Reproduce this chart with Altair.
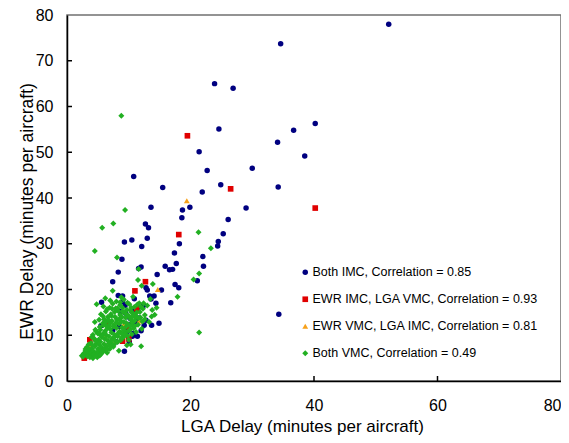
import altair as alt
import pandas as pd

FONT = "Liberation Sans"

series_names = [
    "Both IMC, Correlation = 0.85",
    "EWR IMC, LGA VMC, Correlation = 0.93",
    "EWR VMC, LGA IMC, Correlation = 0.81",
    "Both VMC, Correlation = 0.49",
]
series_colors = ["#000080", "#E00000", "#F7A11A", "#22B022"]
series_shapes = ["circle", "square", "triangle-up", "diamond"]

# Both IMC
imc_lga = [52.1, 34.6, 23.9, 26.9, 24.6, 40.2, 36.7, 34.1, 21.4, 38.5, 22.7, 30.0, 10.8, 15.5, 24.9,
           21.9, 34.2, 13.6, 19.9, 18.7, 29.0, 18.6, 26.1, 12.7, 13.2, 25.3, 9.3, 10.5, 13.0, 18.2,
           24.5, 24.4, 12.1, 17.4, 8.9, 22.0, 17.7, 22.1, 15.9, 17.1, 16.6, 8.3, 12.0, 11.6, 14.6,
           7.4, 21.1, 17.5, 18.1, 12.8, 13.0, 15.3, 8.3, 9.0, 14.1, 13.4, 5.6, 14.4, 16.8, 34.3,
           14.9, 13.7, 12.5, 5.5, 9.3, 10.6, 7.4, 8.5, 9.0, 8.6, 10.5, 10.7, 11.7, 12.8, 10.2,
           11.4, 9.5, 10.8, 11.6, 9.8, 12.0, 8.0, 10.1, 11.2, 13.6, 12.4, 10.9, 9.4]
imc_ewr = [78.0, 73.7, 65.0, 64.0, 55.1, 56.3, 54.8, 52.2, 50.1, 49.2, 46.0, 46.5, 44.7, 42.3, 42.9,
           41.3, 42.4, 38.0, 38.0, 37.4, 37.8, 35.7, 35.3, 34.3, 33.5, 32.2, 30.4, 30.8, 31.2, 30.0,
           30.5, 29.5, 29.4, 28.0, 26.6, 27.2, 25.7, 25.1, 25.1, 24.4, 24.3, 23.8, 24.9, 24.6, 23.3,
           21.7, 21.9, 21.1, 20.4, 20.4, 19.9, 19.9, 18.7, 18.6, 18.6, 18.6, 17.2, 17.0, 17.1, 14.6,
           12.6, 12.2, 12.2, 12.1, 6.5, 9.8, 11.0, 11.9, 17.4, 15.2, 12.6, 10.4, 13.8, 13.3, 13.7,
           9.8, 14.8, 15.6, 16.1, 10.8, 11.0, 8.6, 8.5, 13.0, 17.9, 16.5, 18.0, 16.5]

# EWR IMC, LGA VMC
ei_lga = [19.5, 26.5, 40.2, 18.1, 12.7, 11.0, 11.3, 6.6, 10.0, 9.0, 3.7, 2.8, 9.7]
ei_ewr = [53.6, 42.0, 37.8, 32.0, 21.7, 19.7, 15.8, 12.5, 9.2, 8.7, 9.0, 5.0, 11.9]

# EWR VMC, LGA IMC
ev_lga = [19.4, 14.7, 11.7, 9.3, 7.8, 9.1, 3.8, 11.8, 6.2]
ev_ewr = [39.4, 20.0, 13.1, 12.6, 8.7, 12.1, 7.9, 13.2, 9.6]

# Both VMC
vmc_lga = [8.8, 9.4, 7.5, 5.7, 4.5, 21.3, 23.3, 8.1, 11.6, 21.4, 20.5, 11.5, 12.1, 13.9, 7.4,
           10.7, 17.9, 13.5, 6.2, 4.8, 21.4, 12.0, 14.2, 13.7, 12.6, 4.5, 10.3, 9.7, 8.4, 2.4, 4.9,
           2.9, 3.1, 3.4, 3.6, 3.8, 4.0, 4.1, 4.3, 4.5, 4.6, 4.8, 5.0, 5.1, 5.2, 5.3, 5.4, 5.5,
           5.6, 5.7, 5.8, 5.9, 6.0, 6.1, 6.2, 6.3, 6.4, 6.5, 6.6, 6.7, 6.8, 6.9, 7.0, 7.1, 7.2,
           7.3, 7.4, 7.5, 7.6, 7.7, 7.8, 7.9, 8.0, 8.1, 8.2, 8.3, 8.4, 8.5, 8.6, 8.7, 8.8, 8.9,
           9.0, 9.1, 9.2, 9.3, 9.4, 9.5, 9.6, 9.7, 9.8, 9.9, 10.0, 10.1, 10.2, 10.3, 10.4, 10.5,
           10.6, 10.7, 10.8, 10.9, 11.0, 11.2, 11.3, 11.5, 11.7, 11.9, 12.1, 12.3, 12.6, 13.0,
           13.3, 13.8, 14.5, 3.2, 3.9, 4.4, 4.2, 4.7, 5.3, 6.0, 5.5, 6.3, 6.9, 7.4, 7.0, 5.9, 6.6,
           8.0, 8.8, 3.0, 3.5, 4.0, 4.6, 5.2, 5.8, 6.4, 7.2, 7.9, 8.6, 9.3, 10.0, 10.6, 11.1]
vmc_ewr = [58.0, 37.4, 34.4, 33.5, 28.4, 32.5, 29.0, 27.0, 24.5, 23.5, 22.2, 22.1, 20.8, 21.2, 19.7,
           18.4, 18.4, 17.9, 18.1, 16.8, 10.6, 7.6, 14.5, 14.1, 13.5, 12.9, 8.0, 7.8, 6.6, 5.5, 5.2,
           5.8, 6.3, 5.9, 6.8, 6.2, 7.1, 5.6, 6.5, 7.6, 6.0, 8.2, 7.0, 9.0, 6.3, 7.8, 8.6, 5.9,
           9.6, 7.2, 10.3, 6.6, 8.1, 9.2, 11.0, 7.4, 10.0, 6.2, 8.8, 12.0, 9.7, 7.0, 11.3, 8.3, 10.6,
           13.1, 9.3, 7.5, 12.2, 10.1, 14.0, 8.7, 11.6, 13.4, 9.8, 15.3, 12.5, 10.8, 14.4, 8.9, 13.0,
           11.7, 16.0, 9.5, 12.9, 14.9, 10.6, 13.8, 11.9, 15.6, 9.9, 12.4, 14.2, 16.8, 11.2, 13.5,
           15.1, 10.2, 12.8, 14.7, 11.5, 16.2, 13.2, 10.7, 15.0, 12.3, 17.0, 13.9, 11.4, 15.8, 14.4,
           16.5, 12.9, 15.5, 16.0, 7.4, 8.3, 9.3, 10.1, 10.9, 11.8, 13.5, 14.6, 15.2, 16.0, 16.9,
           17.6, 16.3, 14.0, 17.4, 18.3, 7.0, 8.0, 9.6, 11.2, 10.4, 12.6, 12.0, 14.2, 15.9, 17.2,
           11.0, 9.0, 12.0, 14.0]
# Both VMC, dense core of the cluster
vmc_core_lga = [3.3, 3.7, 4.2, 4.4, 4.9, 5.4, 5.6, 6.1, 6.4, 6.8, 7.2, 7.6, 8.1, 8.4, 8.9, 9.2,
                9.6, 10.2, 10.5, 10.9, 11.3, 11.8, 12.0, 12.4, 11.4, 10.4, 9.8, 9.0, 8.5, 8.0,
                7.5, 7.0, 6.6, 6.1, 5.6, 5.2, 4.6, 4.1, 3.5, 3.0, 2.7, 2.6, 5.0, 5.4, 5.9, 6.3,
                6.7, 7.1, 7.7, 8.2, 8.6, 9.2, 7.3, 6.5, 5.8, 5.2, 8.9, 9.7, 10.3, 11.6, 12.2,
                11.0, 10.0, 9.4, 8.8, 8.2, 7.6, 7.0, 6.4, 5.8, 5.3, 4.7]
vmc_core_ewr = [5.4, 5.2, 5.0, 5.8, 6.3, 6.9, 6.1, 7.0, 7.6, 8.2, 8.9, 9.5, 10.0, 10.6, 10.3, 11.1,
                12.7, 12.1, 13.9, 14.3, 14.1, 15.1, 16.2, 17.0, 16.7, 16.0, 17.1, 15.2, 13.6, 12.8,
                11.9, 12.6, 11.6, 10.6, 9.9, 8.4, 8.8, 7.8, 7.0, 6.6, 6.0, 5.3, 10.4, 11.2, 12.2,
                12.9, 13.4, 14.6, 15.1, 15.9, 16.6, 17.8, 15.8, 15.7, 14.2, 13.4, 14.0, 14.5, 15.4,
                13.7, 13.0, 12.0, 11.0, 10.1, 9.4, 8.5, 7.9, 7.6, 6.8, 6.4, 5.6, 5.5]

y_tick_values = [10, 20, 30, 40, 50, 60, 70]
x_tick_values = [20, 40, 60]

rows = []
for name, xs_, ys_ in [
    (series_names[0], imc_lga, imc_ewr),
    (series_names[1], ei_lga, ei_ewr),
    (series_names[2], ev_lga, ev_ewr),
    (series_names[3], vmc_lga + vmc_core_lga, vmc_ewr + vmc_core_ewr),
]:
    for a, b in zip(xs_, ys_):
        rows.append({"series": name, "lga": a, "ewr": b})
df = pd.DataFrame(rows)

W, H = 494, 366

x_axis = alt.Axis(values=[0, 20, 40, 60, 80], title="LGA Delay (minutes per aircraft)",
                  tickSize=0, labelPadding=16, labelFontSize=16, titleFontSize=17,
                  titleFontWeight="normal", domainColor="black", domainWidth=1.5,
                  labelColor="black", titleColor="black", grid=False,
                  labelAlign={"condition": {"test": "datum.value == 80", "value": "right"},
                              "value": "center"},
                  titleX=235, titleY=45, titleAlign="center", titleBaseline="middle")
y_axis = alt.Axis(values=[0, 10, 20, 30, 40, 50, 60, 70, 80],
                  title="EWR Delay (minutes per aircraft)",
                  tickSize=0, labelPadding=14, labelFontSize=16, titleFontSize=17.5,
                  titleFontWeight="normal", domainColor="black", domainWidth=1.5,
                  labelColor="black", titleColor="black", grid=False,
                  titleX=-40, titleY=196, titleAngle=270, titleAlign="center",
                  titleBaseline="middle")

xs = alt.Scale(domain=[0, 80], nice=False)
ys = alt.Scale(domain=[0, 80], nice=False)

points = alt.Chart(df).mark_point(filled=True, opacity=1).encode(
    x=alt.X("lga:Q", scale=xs, axis=x_axis),
    y=alt.Y("ewr:Q", scale=ys, axis=y_axis),
    color=alt.Color("series:N", scale=alt.Scale(domain=series_names, range=series_colors),
                    sort=series_names,
                    legend=alt.Legend(title=None, orient="none", legendX=232, legendY=251,
                                      labelFontSize=12.5, labelColor="black", symbolSize=18,
                                      rowPadding=14, labelOffset=1, padding=0,
                                      symbolStrokeWidth=0, labelLimit=400)),
    shape=alt.Shape("series:N", scale=alt.Scale(domain=series_names, range=series_shapes),
                    sort=series_names),
    size=alt.Size("series:N", scale=alt.Scale(domain=series_names, range=[30, 36, 40, 48]),
                  legend=None),
)

ytick_df = pd.DataFrame({"ewr": y_tick_values})
xtick_df = pd.DataFrame({"lga": x_tick_values})

yticks = alt.Chart(ytick_df).mark_rule(color="black", strokeWidth=1.5).encode(
    y=alt.Y("ewr:Q", scale=ys, axis=y_axis), x=alt.value(0), x2=alt.value(5))
xticks = alt.Chart(xtick_df).mark_rule(color="black", strokeWidth=1.5).encode(
    x=alt.X("lga:Q", scale=xs, axis=x_axis), y=alt.value(H - 5), y2=alt.value(H))

chart = alt.layer(points, yticks, xticks).properties(
    width=W, height=H,
    autosize=alt.AutoSizeParams(type="none"),
    padding={"left": 59, "top": 7, "right": 0, "bottom": 54},
).configure(font=FONT).configure_view(stroke="#707070", strokeWidth=1.5)

chart.save("out.html", embed_options={"renderer": "svg", "actions": False})
